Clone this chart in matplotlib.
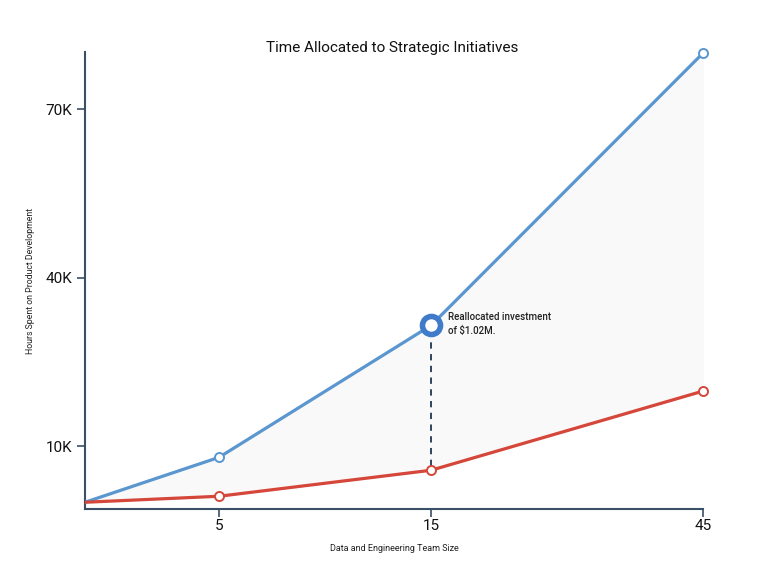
import numpy as np
import matplotlib
matplotlib.use("Agg")
import matplotlib.pyplot as plt

plt.rcParams['font.family'] = ['Roboto', 'DejaVu Sans']

# data
team_size = [0, 5, 15, 45]
product_hours = [0, 8.0, 31.5, 80.0]     # thousands of hours (blue)
strategic_hours = [0, 1.07, 5.7, 19.8]   # thousands of hours (red)
tick_sizes = [5, 15, 45]
y_ticks = [10, 40, 70]
y_tick_labels = ['10K', '40K', '70K']
highlight_idx = 2
note = "Reallocated investment\nof $1.02M."

# uneven spacing of the team-size axis
scale_pos = [0, 134, 346, 618]

def fwd(x):
    return np.interp(x, team_size, scale_pos)

def inv(p):
    return np.interp(p, scale_pos, team_size)

blue = '#5a96cf'
red = '#d5473a'
axis_col = '#3b4f66'

fig = plt.figure(figsize=(7.79, 5.68), dpi=100)
ax = fig.add_axes([85 / 779, 1 - 509 / 568, 618 / 779, 457 / 568])
ax.set_xscale('function', functions=(fwd, inv))
ax.set_xlim(0, 45)
ax.set_ylim(-1.2, 80.2)

ax.fill_between(team_size, strategic_hours, product_hours, color='#f9f9f9', zorder=1)
ax.plot(team_size, product_hours, color=blue, lw=2.3, zorder=3)
ax.plot(team_size, strategic_hours, color=red, lw=2.3, zorder=3)
ax.plot(team_size[1:], product_hours[1:], 'o', ms=6.5, mfc='white', mec=blue, mew=1.4,
        zorder=4, clip_on=False)
ax.plot(team_size[1:], strategic_hours[1:], 'o', ms=6.5, mfc='white', mec=red, mew=1.4,
        zorder=4, clip_on=False)

hx = team_size[highlight_idx]
ax.plot([hx, hx], [strategic_hours[highlight_idx] + 0.8, product_hours[highlight_idx] - 1.2],
        color='#1f3553', lw=1.3, ls=(0, (3.5, 3)), zorder=2)
ax.plot(hx, product_hours[highlight_idx], 'o', ms=13, mfc='white', mec='#3f7bc8', mew=4, zorder=5)
ax.annotate(note, (hx, product_hours[highlight_idx]), xytext=(12, 1), textcoords='offset points',
            fontsize=7, color='#222222', va='center', ha='left', multialignment='left',
            linespacing=1.4, fontweight='medium')

ax.set_xticks(tick_sizes)
ax.set_xticklabels([str(t) for t in tick_sizes])
ax.set_yticks(y_ticks)
ax.set_yticklabels(y_tick_labels)
ax.minorticks_off()
ax.tick_params(axis='both', colors=axis_col, length=6, width=1.2, labelsize=11, labelcolor='#111111')
ax.tick_params(axis='x', pad=1)
ax.tick_params(axis='y', pad=3)

for s in ['top', 'right']:
    ax.spines[s].set_visible(False)
for s in ['left', 'bottom']:
    ax.spines[s].set_color(axis_col)
    ax.spines[s].set_linewidth(1.5)

ax.set_xlabel('Data and Engineering Team Size', fontsize=6.5, color='#222222', labelpad=8)
ax.set_ylabel('Hours Spent on Product Development', fontsize=6.3, color='#222222', labelpad=8)
fig.text(392 / 779, 1 - 48 / 568, 'Time Allocated to Strategic Initiatives', ha='center', va='center',
         fontsize=11, color='#111111')

fig.savefig('out.png', dpi=100, facecolor='white')
